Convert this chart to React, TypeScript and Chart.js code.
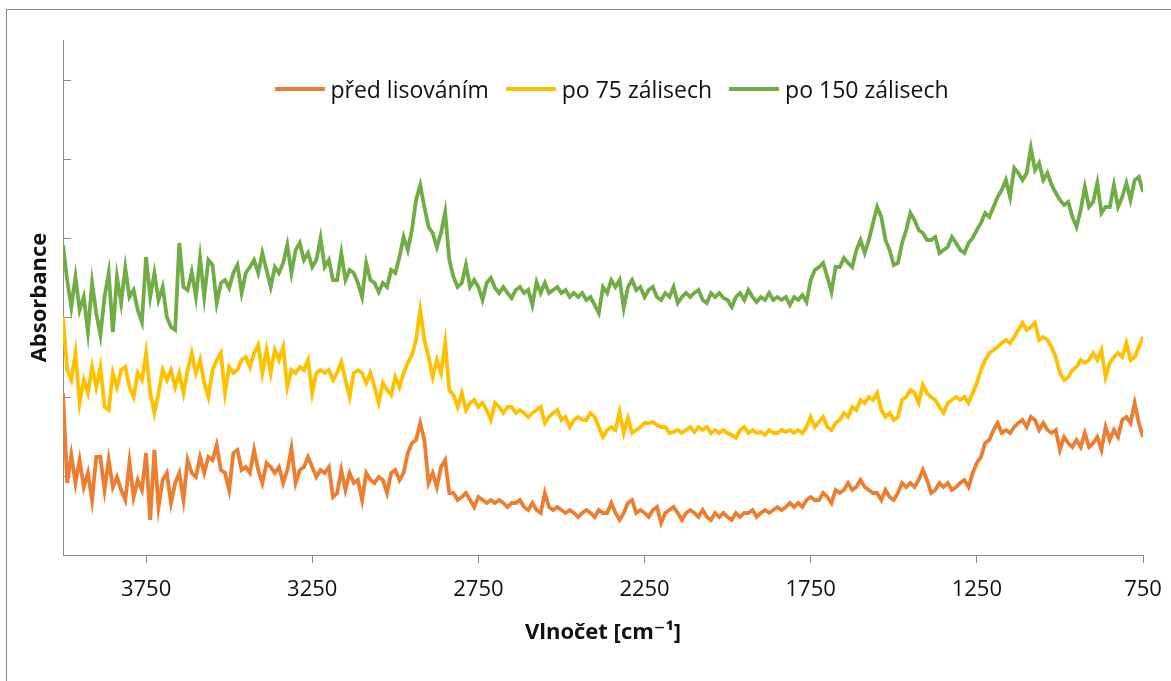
import React, { useEffect, useRef } from "react";
import { Chart, registerables } from "chart.js";

Chart.register(...registerables);

// Spectral sampling grid (cm-1): starts at 4000, one point every 12.5 cm-1 down to 750
const WN_START = 4000;
const WN_STEP = 12.5;

// Absorbance (arbitrary units, traces offset)
const predLisovanim = [
  162, 72, 100, 72, 95, 68, 82, 55, 98, 98,
  65, 95, 68, 78, 65, 55, 93, 58, 75, 65,
  102, 35, 105, 48, 75, 82, 52, 72, 82, 55,
  95, 82, 78, 98, 82, 98, 95, 110, 85, 82,
  65, 102, 105, 85, 88, 82, 105, 85, 72, 92,
  88, 82, 88, 72, 85, 107, 72, 85, 88, 98,
  88, 78, 85, 82, 88, 58, 62, 85, 65, 82,
  72, 75, 55, 82, 75, 72, 78, 75, 62, 82,
  85, 75, 82, 102, 112, 115, 132, 115, 72, 82,
  68, 88, 95, 62, 62, 55, 58, 62, 55, 48,
  58, 55, 52, 55, 52, 55, 52, 48, 52, 52,
  55, 48, 45, 52, 45, 42, 62, 48, 45, 48,
  45, 42, 45, 42, 38, 42, 45, 42, 38, 45,
  42, 42, 52, 42, 35, 42, 52, 55, 42, 45,
  42, 38, 45, 48, 32, 42, 45, 48, 42, 35,
  42, 45, 42, 38, 45, 38, 35, 42, 38, 42,
  38, 35, 42, 38, 42, 42, 45, 38, 42, 45,
  42, 45, 48, 45, 48, 52, 48, 52, 48, 55,
  58, 55, 55, 62, 58, 52, 65, 62, 65, 72,
  65, 68, 75, 68, 65, 62, 62, 55, 65, 58,
  55, 62, 72, 68, 72, 68, 75, 85, 75, 62,
  65, 72, 68, 72, 65, 68, 72, 75, 68, 82,
  92, 98, 112, 115, 125, 132, 122, 125, 122, 128,
  132, 135, 128, 138, 135, 125, 132, 125, 122, 125,
  105, 118, 112, 108, 115, 108, 122, 108, 112, 118,
  105, 128, 115, 125, 118, 135, 138, 132, 152, 132,
  118,
];

const po75Zalisech = [
  238, 185, 175, 202, 152, 175, 162, 188, 168, 188,
  148, 145, 182, 168, 185, 188, 168, 158, 182, 175,
  202, 162, 142, 162, 185, 175, 185, 168, 182, 162,
  185, 202, 182, 195, 172, 158, 185, 195, 202, 162,
  188, 182, 185, 195, 198, 188, 202, 210, 182, 205,
  182, 205, 195, 208, 168, 185, 182, 188, 185, 195,
  162, 182, 185, 182, 185, 175, 182, 193, 175, 158,
  182, 185, 182, 172, 182, 168, 152, 172, 165, 160,
  178, 168, 182, 192, 200, 215, 245, 215, 198, 178,
  195, 182, 212, 165, 160, 148, 162, 145, 152, 155,
  148, 152, 145, 135, 152, 148, 142, 148, 148, 142,
  145, 142, 138, 142, 145, 148, 132, 138, 142, 145,
  135, 138, 128, 135, 138, 135, 135, 142, 138, 128,
  118, 125, 128, 125, 143, 122, 137, 122, 125, 128,
  132, 132, 133, 130, 128, 128, 122, 123, 125, 122,
  125, 128, 123, 128, 125, 128, 122, 125, 122, 125,
  122, 120, 117, 125, 128, 122, 125, 122, 123, 120,
  125, 122, 122, 125, 123, 125, 122, 125, 122, 128,
  138, 128, 133, 138, 128, 125, 132, 135, 142, 138,
  148, 145, 155, 152, 158, 155, 162, 145, 138, 142,
  135, 138, 155, 158, 165, 162, 152, 170, 162, 158,
  155, 148, 142, 152, 155, 158, 155, 158, 152, 162,
  172, 185, 195, 202, 205, 208, 212, 215, 212, 218,
  225, 232, 225, 228, 232, 215, 218, 215, 208, 198,
  182, 175, 178, 185, 188, 195, 192, 195, 202, 195,
  205, 178, 192, 198, 202, 198, 212, 195, 198, 208,
  218,
];

const po150Zalisech = [
  310, 275, 248, 278, 245, 258, 223, 272, 242, 220,
  258, 282, 223, 278, 252, 287, 258, 265, 245, 233,
  298, 258, 282, 255, 268, 238, 228, 225, 312, 268,
  265, 283, 258, 297, 258, 295, 290, 252, 272, 275,
  267, 282, 290, 262, 282, 288, 295, 282, 302, 285,
  268, 288, 282, 292, 310, 282, 305, 312, 295, 302,
  288, 295, 317, 288, 295, 275, 275, 302, 275, 285,
  282, 272, 258, 292, 275, 272, 263, 272, 268, 285,
  282, 298, 318, 305, 325, 355, 370, 348, 328, 322,
  308, 322, 343, 295, 278, 268, 272, 290, 268, 275,
  268, 255, 272, 277, 267, 262, 268, 262, 257, 265,
  268, 262, 265, 250, 273, 262, 272, 262, 265, 268,
  262, 265, 258, 262, 258, 262, 255, 258, 250, 242,
  268, 262, 275, 268, 275, 247, 268, 275, 265, 268,
  258, 265, 268, 258, 255, 262, 258, 268, 252, 258,
  262, 258, 262, 265, 255, 252, 262, 258, 262, 257,
  255, 248, 258, 262, 255, 265, 258, 253, 258, 255,
  262, 255, 258, 255, 258, 250, 258, 255, 260, 253,
  275, 285, 288, 292, 278, 263, 288, 288, 297, 292,
  288, 305, 315, 302, 315, 332, 348, 338, 315, 305,
  290, 292, 312, 325, 342, 335, 325, 322, 315, 315,
  318, 302, 305, 308, 318, 312, 305, 302, 312, 317,
  325, 332, 342, 338, 348, 358, 365, 375, 358, 387,
  382, 375, 382, 407, 385, 392, 375, 382, 370, 362,
  355, 350, 353, 338, 328, 345, 368, 348, 353, 372,
  342, 348, 348, 370, 348, 358, 372, 355, 375, 378,
  363,
];

const seriesNames = ["před lisováním", "po 75 zálisech", "po 150 zálisech"];
const seriesColors = ["#ED7D31", "#FFC000", "#70AD47"];
const seriesValues = [predLisovanim, po75Zalisech, po150Zalisech];

const xTickValues = [3750, 3250, 2750, 2250, 1750, 1250, 750];
const X_MIN = 750;
const X_MAX = 4000;
const yTickValues = [0, 79.25, 158.5, 237.75, 317, 396.25, 475.5];
const Y_MIN = 0;
const Y_MAX = 515;

const xTitle = "Vlnočet [cm⁻¹]";
const yTitle = "Absorbance";

const FONT = "'Open Sans', 'DejaVu Sans', sans-serif";
const AXIS_GRAY = "#8c8c8c";

const innerYTicks = {
  id: "innerYTicks",
  beforeDatasetsDraw(chart: any) {
    const y = chart.scales.y;
    const ctx = chart.ctx;
    ctx.save();
    ctx.strokeStyle = AXIS_GRAY;
    ctx.lineWidth = 1;
    y.ticks.forEach((t: any) => {
      if (t.value <= Y_MIN) return;
      const py = Math.round(y.getPixelForValue(t.value)) + 0.5;
      ctx.beginPath();
      ctx.moveTo(y.right, py);
      ctx.lineTo(y.right + 8, py);
      ctx.stroke();
    });
    ctx.restore();
  },
};

export default function App() {
  const canvasRef = useRef<HTMLCanvasElement | null>(null);

  useEffect(() => {
    if (!canvasRef.current) return;
    const datasets = seriesValues.map((vals, s) => ({
      label: seriesNames[s],
      data: vals.map((v, i) => ({ x: WN_START - i * WN_STEP, y: v })),
      borderColor: seriesColors[s],
      backgroundColor: seriesColors[s],
      borderWidth: 3.8,
      pointRadius: 0,
      tension: 0,
      fill: false,
    }));
    const chart = new Chart(canvasRef.current, {
      type: "line",
      data: { datasets },
      plugins: [innerYTicks],
      options: {
        animation: false,
        responsive: false,
        maintainAspectRatio: false,
        layout: { padding: { left: 26.8, right: 28, top: 40, bottom: 35.2 } },
        plugins: { legend: { display: false }, tooltip: { enabled: false } },
        scales: {
          x: {
            type: "linear",
            reverse: true,
            min: X_MIN,
            max: X_MAX,
            afterBuildTicks: (scale: any) => {
              scale.ticks = xTickValues.map((v) => ({ value: v }));
            },
            afterFit: (scale: any) => {
              scale.paddingLeft = 0;
              scale.paddingRight = 0;
            },
            border: { display: true, color: AXIS_GRAY, width: 1 },
            grid: {
              display: true,
              drawOnChartArea: false,
              drawTicks: true,
              tickLength: 8,
              color: AXIS_GRAY,
            },
            ticks: {
              autoSkip: false,
              maxRotation: 0,
              padding: 14,
              color: "#111",
              font: { family: FONT, size: 22 },
              callback: (v: any) => String(v),
            },
            title: {
              display: true,
              text: xTitle,
              color: "#111",
              font: { family: FONT, size: 22, weight: "bold" },
              padding: { top: 2, bottom: 0 },
            },
          },
          y: {
            type: "linear",
            min: Y_MIN,
            max: Y_MAX,
            afterBuildTicks: (scale: any) => {
              scale.ticks = yTickValues.map((v) => ({ value: v }));
            },
            border: { display: true, color: AXIS_GRAY, width: 1 },
            grid: { display: false, drawTicks: false },
            ticks: { display: false },
            title: {
              display: true,
              text: yTitle,
              color: "#111",
              font: { family: FONT, size: 22, weight: "bold" },
              padding: { top: 0, bottom: 9.8 },
            },
          },
        },
      },
    } as any);
    return () => chart.destroy();
  }, []);

  return (
    <div
      style={{
        position: "fixed",
        left: 0,
        top: 0,
        width: 1171,
        height: 681,
        overflow: "hidden",
        background: "#fff",
      }}
    >
      <div
        style={{
          position: "absolute",
          left: 6,
          top: 9,
          width: 1300,
          height: 800,
          border: "1px solid #8a8a8a",
        }}
      />
      <canvas
        ref={canvasRef}
        width={1171}
        height={681}
        style={{ position: "absolute", left: 0, top: 0, width: 1171, height: 681 }}
      />
      <div
        style={{
          position: "absolute",
          left: 611.5,
          top: 74,
          height: 30,
          transform: "translateX(-50%)",
          display: "flex",
          alignItems: "center",
          whiteSpace: "nowrap",
          fontFamily: FONT,
          fontSize: 23,
          color: "#111",
        }}
      >
        {seriesNames.map((name, s) => (
          <div
            key={name}
            style={{ display: "flex", alignItems: "center", marginRight: s < seriesNames.length - 1 ? 17 : 0 }}
          >
            <span
              style={{
                display: "inline-block",
                width: 50,
                height: 4,
                background: seriesColors[s],
                marginRight: 6,
              }}
            />
            <span>{name}</span>
          </div>
        ))}
      </div>
    </div>
  );
}
